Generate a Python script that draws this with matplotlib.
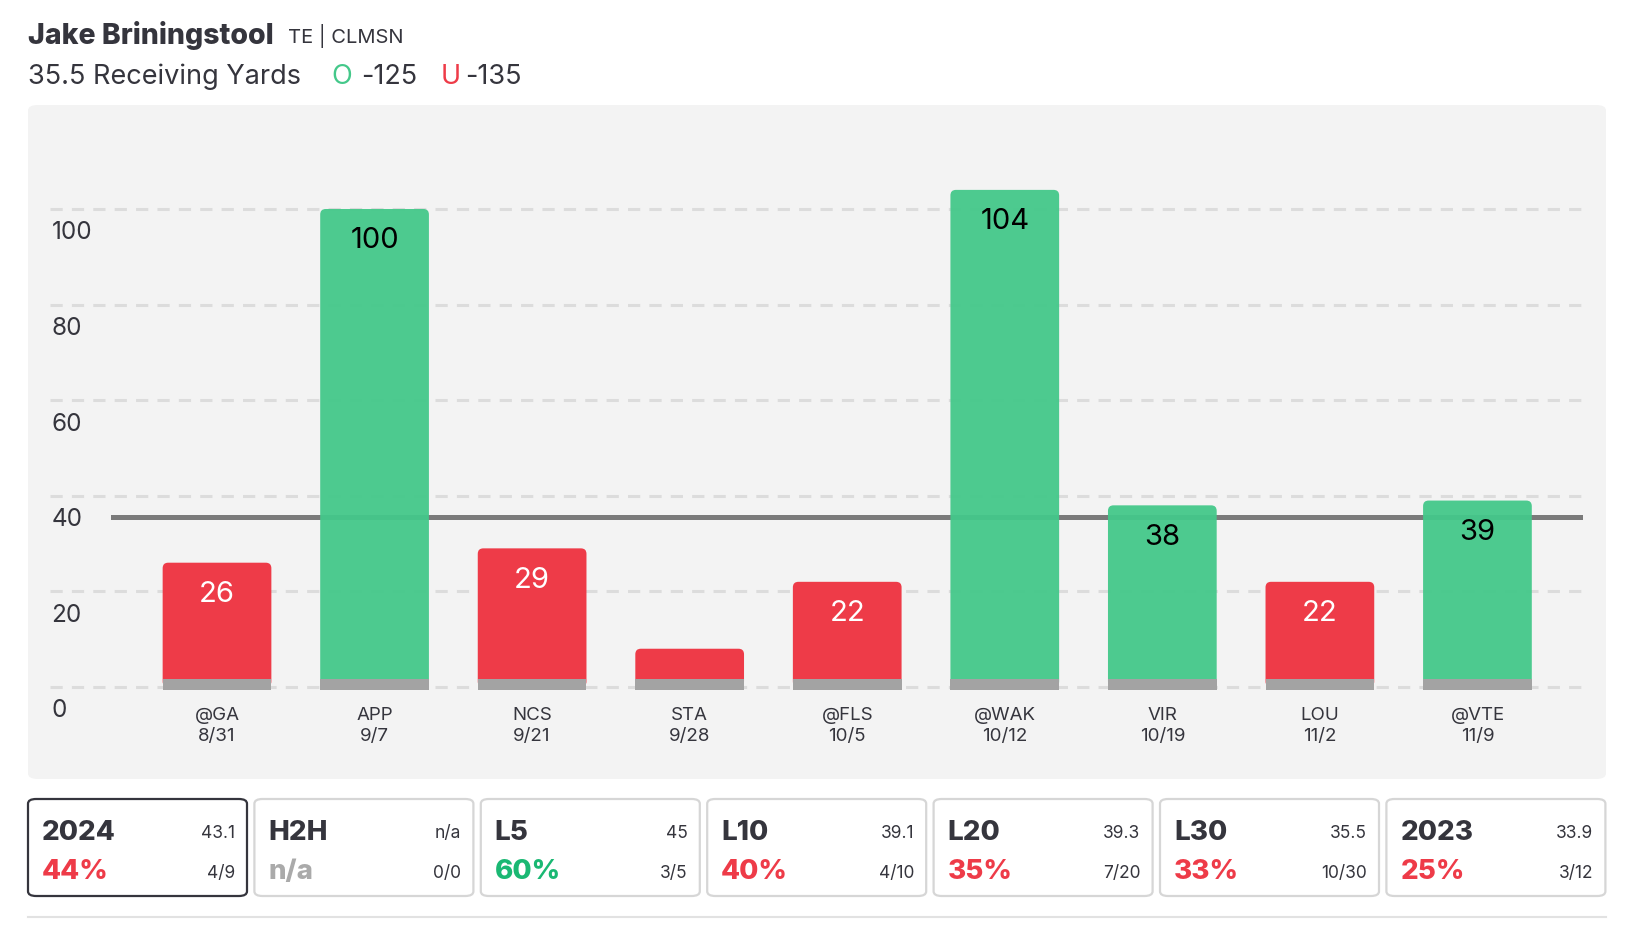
import matplotlib
matplotlib.use("Agg")
import matplotlib.pyplot as plt
from matplotlib.patches import FancyBboxPatch

plt.rcParams['font.family'] = ['Inter', 'DejaVu Sans']

# data
games = ["@GA", "APP", "NCS", "STA", "@FLS", "@WAK", "VIR", "LOU", "@VTE"]
dates = ["8/31", "9/7", "9/21", "9/28", "10/5", "10/12", "10/19", "11/2", "11/9"]
yards = [26, 100, 29, 8, 22, 104, 38, 22, 39]
line_value = 35.5
yticks = [0, 20, 40, 60, 80, 100]

card_names = ["2024", "H2H", "L5", "L10", "L20", "L30", "2023"]
card_avgs = ["43.1", "n/a", "45", "39.1", "39.3", "35.5", "33.9"]
card_pcts = ["44%", "n/a", "60%", "40%", "35%", "33%", "25%"]
card_records = ["4/9", "0/0", "3/5", "4/10", "7/20", "10/30", "3/12"]

GREEN = "#44c88a"
RED = "#ee3b48"
GREEN_TXT = "#1ab873"
DARK = "#35353d"

W, H = 1636, 940
fig = plt.figure(figsize=(W / 100, H / 100), dpi=100)

def fx(x):
    return x / W

def fy(y):
    return 1 - y / H

# grey panel behind the chart
panel = FancyBboxPatch((fx(28), fy(779)), fx(1578), 674 / H,
                       boxstyle="round,pad=0,rounding_size=0.006",
                       transform=fig.transFigure, facecolor="#f3f3f3",
                       edgecolor="none", zorder=0)
fig.patches.append(panel)

# header
fig.text(fx(28), fy(44), "Jake Briningstool", fontsize=20.5, fontweight="heavy", color=DARK)
fig.text(fx(288), fy(43), "TE | CLMSN", fontsize=14.5, color=DARK)
fig.text(fx(28), fy(84), "35.5 Receiving Yards", fontsize=19.5, color=DARK)
fig.text(fx(331), fy(84), "O", fontsize=19.5, color=GREEN)
fig.text(fx(361), fy(84), "-125", fontsize=19.5, color=DARK)
fig.text(fx(441), fy(84), "U", fontsize=19.5, color=RED)
fig.text(fx(465), fy(84), "-135", fontsize=19.5, color=DARK)

# chart axes
ax = fig.add_axes([fx(50), fy(703.7), fx(1533), 542.5 / H])
ax.set_zorder(2)
ax.set_facecolor("none")
ax.set_xlim(-1.06, 8.67)
ax.set_ylim(-3.5, 110)
for s in ax.spines.values():
    s.set_visible(False)

for t in yticks:
    ax.axhline(t, color="#dcdcdc", lw=2.2, ls=(0, (4, 3)), zorder=1)
    ax.text(0.001, t - 5.0, str(t), transform=ax.get_yaxis_transform(),
            ha="left", va="center", fontsize=17.5, color=DARK)
ax.set_yticks([])

ax.axhline(line_value, xmin=0.041, xmax=1, color="#7a7a7a", lw=3.6, zorder=2)

x = list(range(len(games)))
colors = [GREEN if v > line_value else RED for v in yards]
bars = ax.bar(x, yards, width=0.69, color=colors, zorder=3)
# swap plain rectangles for ones with rounded corners
for b, c in zip(bars, colors):
    b.set_visible(False)
    rb = FancyBboxPatch((b.get_x(), b.get_y()), b.get_width(), b.get_height(),
                        boxstyle="round,pad=0,rounding_size=0.035",
                        mutation_aspect=33, facecolor=c, edgecolor="none",
                        alpha=0.95 if c == GREEN else 1, zorder=3)
    ax.add_patch(rb)
ax.bar(x, [2.3] * len(x), bottom=-0.6, width=0.69, color="#a3a3a3", zorder=4)

for xi, v, c in zip(x, yards, colors):
    if v < 12:
        continue
    ax.annotate(str(v), (xi, v), xytext=(0, -23), textcoords="offset points",
                ha="center", va="center", fontsize=21,
                color="black" if c == GREEN else "white", zorder=5)

ax.set_xticks(x, [f"{g}\n{d}" for g, d in zip(games, dates)])
ax.tick_params(axis="x", length=0, pad=2.5, labelsize=13.5, labelcolor=DARK)
for lab in ax.get_xticklabels():
    lab.set_linespacing(1.3)

# stat cards
card_w = 219
card_gap = 7.4
for i, (name, avg, pct, rec) in enumerate(zip(card_names, card_avgs, card_pcts, card_records)):
    x0 = 28 + i * (card_w + card_gap)
    edge = DARK if i == 0 else "#d6d6d6"
    card = FancyBboxPatch((fx(x0), fy(896)), fx(card_w), 97 / H,
                          boxstyle="round,pad=0,rounding_size=0.005",
                          transform=fig.transFigure, facecolor="white",
                          edgecolor=edge, lw=1.6)
    fig.patches.append(card)
    fig.text(fx(x0 + 14), fy(840), name, fontsize=20, fontweight="heavy", color=DARK)
    fig.text(fx(x0 + card_w - 12), fy(838), avg, fontsize=12.5, color=DARK, ha="right")
    if pct == "n/a":
        pc = "#aaaaaa"
    elif int(pct.rstrip("%")) >= 50:
        pc = GREEN_TXT
    else:
        pc = RED
    fig.text(fx(x0 + 14), fy(879), pct, fontsize=20, fontweight="heavy", color=pc)
    fig.text(fx(x0 + card_w - 12), fy(878), rec, fontsize=12.5, color=DARK, ha="right")

fig.add_artist(plt.Line2D([fx(28), fx(1606)], [fy(917), fy(917)],
                          transform=fig.transFigure, color="#e2e2e2", lw=1.5))

fig.savefig("out.png", dpi=100)
